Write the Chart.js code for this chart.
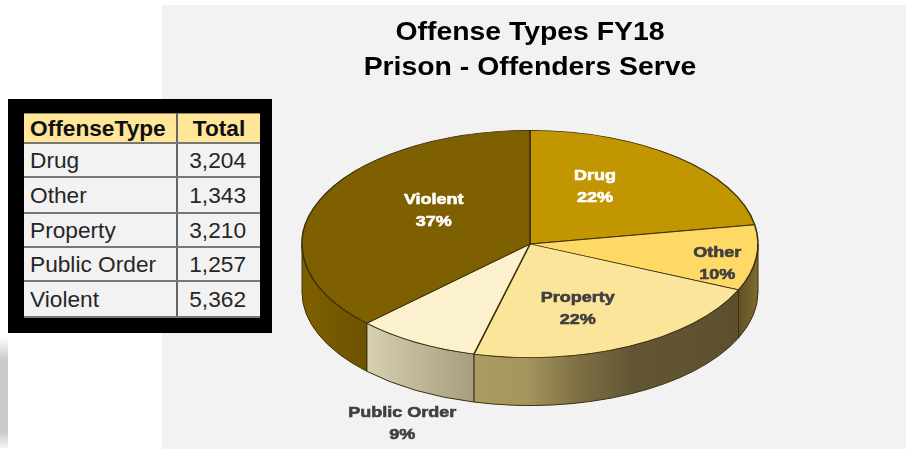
<!DOCTYPE html>
<html>
<head>
<meta charset="utf-8">
<title>Offense Types FY18</title>
<script src="https://cdn.jsdelivr.net/npm/chart.js@4"></script>
<style>
  html, body { margin: 0; padding: 0; background: #fff; }
  #page { position: relative; width: 906px; height: 450px; overflow: hidden; }
  #panel { position: absolute; left: 162px; top: 5px; width: 744px; height: 444px; background: #f2f2f2; }
  #edge { position: absolute; left: 0; top: 336px; width: 8px; height: 112px;
          background: linear-gradient(to bottom, #fff 0%, #c9c9c9 22%, #c9c9c9 85%, #f4f4f4 100%); }
  #chart { position: absolute; left: 154px; top: 0; }
  #frame { position: absolute; left: 8px; top: 99px; width: 264px; height: 234px; background: #000; }
  #table { position: absolute; left: 24px; top: 113px; width: 236px; border-collapse: collapse;
           table-layout: fixed; font-family: "Liberation Sans", Arial, sans-serif; font-size: 22.7px; color: #262626;
           background: #f2f2f2; }
  #table th, #table td { padding: 0 6px; border-top: 2px solid #777; border-bottom: 2px solid #777; white-space: nowrap; }
  #table th { background: #ffe699; color: #111; height: 28px; border-top: 1px solid #9a8a50; text-align: left; }
  #table td { height: 32px; }
  #table tbody tr:nth-child(2) td, #table tbody tr:nth-child(5) td { height: 34px; }
  #table .num { text-align: right; padding-right: 14px; border-left: 2px solid #666; }
  #table th.num { text-align: center; padding: 0; }
</style>
</head>
<body>
<div id="page">
  <div id="panel"></div>
  <div id="edge"></div>
  <canvas id="chart" width="752" height="450"></canvas>
  <div id="frame"></div>
  <table id="table"><colgroup><col style="width:153px"><col style="width:83px"></colgroup><thead></thead><tbody></tbody></table>
</div>
<script>
// Offense counts by type
const categories = ['Drug', 'Other', 'Property', 'Public Order', 'Violent'];
const totals = [3204, 1343, 3210, 1257, 5362];
const percentLabels = ['22%', '10%', '22%', '9%', '37%'];
const tableHeaders = ['OffenseType', 'Total'];
const titleLines = ['Offense Types FY18', 'Prison - Offenders Serve'];

// Slice styling
const topColors = ['#c29600', '#ffd966', '#fbe59b', '#fbf1cf', '#7f6000'];
const labelColors = ['#ffffff', '#404040', '#404040', '#404040', '#ffffff'];
const wallStops = [
  ['#6e5a20', '#6e5a20'],
  ['#5d5027', '#7d6c2c'],
  ['#ab9c64', '#a4955d', '#7d6f44', '#625534', '#5f5332', '#5b4f30'],
  ['#d6cfb2', '#a79d80'],
  ['#7f6000', '#6d5200']
];
const labelNudges = [[-26, -3.5], [47, 11.5], [-14, 1.5], [-57, 118.5], [34, -6]];

// Tilted pie geometry
const pieCentreY = 244;
const squash = 0.498;
const wallDepth = 48;
const pieRadius = 228;
const edgeColor = '#3d3008';
const titleStretch = 1.135;

function fillTable() {
  const headRow = document.createElement('tr');
  tableHeaders.forEach((text, i) => {
    const th = document.createElement('th');
    th.textContent = text;
    if (i === 1) th.className = 'num';
    headRow.appendChild(th);
  });
  document.querySelector('#table thead').appendChild(headRow);
  categories.forEach((name, i) => {
    const row = document.createElement('tr');
    const a = document.createElement('td');
    a.textContent = name;
    const b = document.createElement('td');
    b.className = 'num';
    b.textContent = totals[i].toLocaleString('en-US');
    row.append(a, b);
    document.querySelector('#table tbody').appendChild(row);
  });
}
fillTable();

// Squashes the flat pie into a tilted disc, adds its side wall and slice labels.
const tiltedPie = {
  id: 'tiltedPie',
  beforeDraw(chart) {
    // Widen the title about the canvas centre; undone before the pie is drawn.
    const ctx = chart.ctx;
    ctx.save();
    ctx.translate(chart.width / 2, 0);
    ctx.scale(titleStretch, 1);
    ctx.translate(-chart.width / 2, 0);
  },
  beforeDatasetsDraw(chart) {
    const ctx = chart.ctx;
    ctx.restore();
    const arcs = chart.getDatasetMeta(0).data;
    arcs.forEach((arc, i) => {
      const from = Math.max(arc.startAngle, 0);
      const to = Math.min(arc.endAngle, Math.PI);
      if (to <= from) return;
      const rx = arc.outerRadius;
      const ry = rx * squash;
      const x0 = arc.x + rx * Math.cos(to);
      const x1 = arc.x + rx * Math.cos(from);
      const gradient = ctx.createLinearGradient(x0, 0, x1, 0);
      wallStops[i].forEach((c, k, all) => gradient.addColorStop(k / (all.length - 1), c));
      ctx.beginPath();
      ctx.ellipse(arc.x, pieCentreY, rx, ry, 0, from, to, false);
      ctx.ellipse(arc.x, pieCentreY + wallDepth, rx, ry, 0, to, from, true);
      ctx.closePath();
      ctx.fillStyle = gradient;
      ctx.fill();
      ctx.lineWidth = 1;
      ctx.strokeStyle = edgeColor;
      ctx.stroke();
    });
  },
  beforeDatasetDraw(chart) {
    const arc = chart.getDatasetMeta(0).data[0];
    const ctx = chart.ctx;
    ctx.save();
    ctx.translate(0, pieCentreY);
    ctx.scale(1, squash);
    ctx.translate(0, -arc.y);
  },
  afterDatasetDraw(chart) {
    chart.ctx.restore();
  },
  afterDatasetsDraw(chart) {
    const ctx = chart.ctx;
    chart.getDatasetMeta(0).data.forEach((arc, i) => {
      const mid = (arc.startAngle + arc.endAngle) / 2;
      const cx = arc.x + arc.outerRadius * 0.62 * Math.cos(mid) + labelNudges[i][0];
      const cy = pieCentreY + arc.outerRadius * squash * 0.62 * Math.sin(mid) + labelNudges[i][1];
      ctx.save();
      ctx.fillStyle = labelColors[i];
      ctx.strokeStyle = labelColors[i];
      ctx.lineWidth = 0.6;
      ctx.font = 'bold 15px "Liberation Sans", Arial, sans-serif';
      ctx.textAlign = 'center';
      ctx.textBaseline = 'middle';
      ctx.translate(cx, cy);
      ctx.scale(1.2, 1);
      [[categories[i], -11], [percentLabels[i], 11]].forEach(([text, dy]) => {
        ctx.fillText(text, 0, dy);
        ctx.strokeText(text, 0, dy);
      });
      ctx.restore();
    });
  }
};

new Chart(document.getElementById('chart'), {
  type: 'pie',
  data: {
    labels: categories,
    datasets: [{
      data: totals,
      backgroundColor: topColors,
      borderColor: edgeColor,
      borderWidth: 1.6,
      radius: pieRadius,
      clip: false
    }]
  },
  options: {
    responsive: false,
    animation: false,
    events: [],
    layout: { padding: 0 },
    plugins: {
      legend: { display: false },
      tooltip: { enabled: false },
      title: {
        display: true,
        text: titleLines,
        color: '#000',
        font: { family: '"Liberation Sans", Arial, sans-serif', size: 25, weight: 'bold', lineHeight: 1.4 },
        padding: { top: 16, bottom: 0 }
      }
    }
  },
  plugins: [tiltedPie]
});
</script>
</body>
</html>
